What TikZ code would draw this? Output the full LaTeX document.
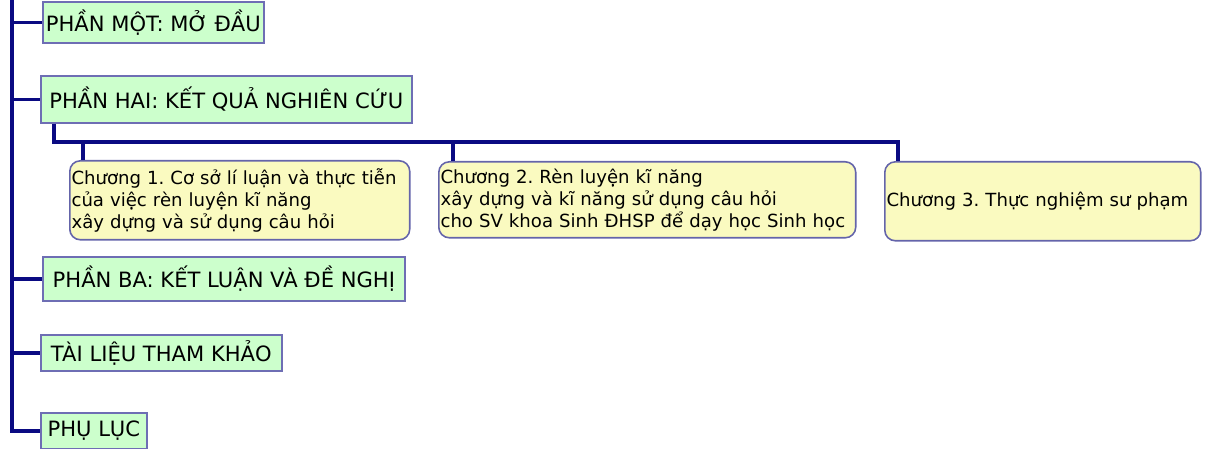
\documentclass[tikz,border=0pt]{standalone}
\usepackage{fontspec}
\setmainfont{DejaVu Sans}
\usetikzlibrary{positioning}

\definecolor{navyline}{RGB}{10,10,130}
\definecolor{partfill}{RGB}{204,255,204}
\definecolor{partedge}{RGB}{110,110,180}
\definecolor{chapfill}{RGB}{250,250,192}
\definecolor{chapedge}{RGB}{100,100,170}

\begin{document}
\frenchspacing
\begin{tikzpicture}[x=0.02cm, y=-0.02cm,
  part/.style={draw=partedge, fill=partfill, line width=1pt, anchor=north west,
    inner xsep=0pt, inner ysep=0pt, font=\fontsize{12}{14}\selectfont},
  chap/.style={draw=chapedge, fill=chapfill, line width=0.9pt, anchor=north west,
    rounded corners=6pt, inner xsep=1pt, inner ysep=0pt, align=left,
    font=\fontsize{10.3}{12.5}\selectfont},
  link/.style={draw=navyline, line width=2pt}]

% Canvas (1213 x 449 px)
\useasboundingbox (0,0) rectangle (1213,449);

% Parts (left column)
\node[part, minimum width=4.42cm, minimum height=0.82cm] (mot) at (42,1) {PHẦN MỘT: MỞ ĐẦU};
\node[part, minimum width=7.42cm, minimum height=0.94cm] (hai) at (40,75) {PHẦN HAI: KẾT QUẢ NGHIÊN CỨU};
\node[part, minimum width=7.24cm, minimum height=0.88cm] (ba) at (42,256) {PHẦN BA: KẾT LUẬN VÀ ĐỀ NGHỊ};
\node[part, minimum width=4.82cm, minimum height=0.72cm] (tlieu) at (40,334) {TÀI LIỆU THAM KHẢO};
\node[part, minimum width=2.12cm, minimum height=0.72cm] (phuluc) at (40,412) {PHỤ LỤC};

% Chapters of part two
\node[chap, text width=6.73cm, minimum height=1.58cm] (ch1) at (69,160)
  {Chương 1. Cơ sở lí luận và thực tiễn\\của việc rèn luyện kĩ năng\\xây dựng và sử dụng câu hỏi};
\node[chap, text width=8.27cm, minimum height=1.52cm] (ch2) at (438,161)
  {Chương 2. Rèn luyện kĩ năng\\xây dựng và kĩ năng sử dụng câu hỏi\\cho SV khoa Sinh ĐHSP để dạy học Sinh học};
\node[chap, text width=6.25cm, minimum height=1.58cm] (ch3) at (884,161)
  {Chương 3. Thực nghiệm sư phạm};

% Trunk and stubs
\coordinate (top) at (12,0);
\draw[link] (top) |- (phuluc.west);
\foreach \p in {mot,hai,ba,tlieu}
  \draw[link] (\p.west -| top) -- (\p.west);

% Branch under part two
\coordinate (bus) at (54,142);
\coordinate (d1) at ([xshift=0.28cm]ch1.north west);
\coordinate (d2) at ([xshift=0.30cm]ch2.north west);
\coordinate (d3) at ([xshift=0.28cm]ch3.north west);
\draw[link] (hai.south -| bus) |- (d3 |- bus) -- (d3);
\foreach \d in {d1,d2}
  \draw[link] (\d |- bus) -- (\d);

\end{tikzpicture}
\end{document}
